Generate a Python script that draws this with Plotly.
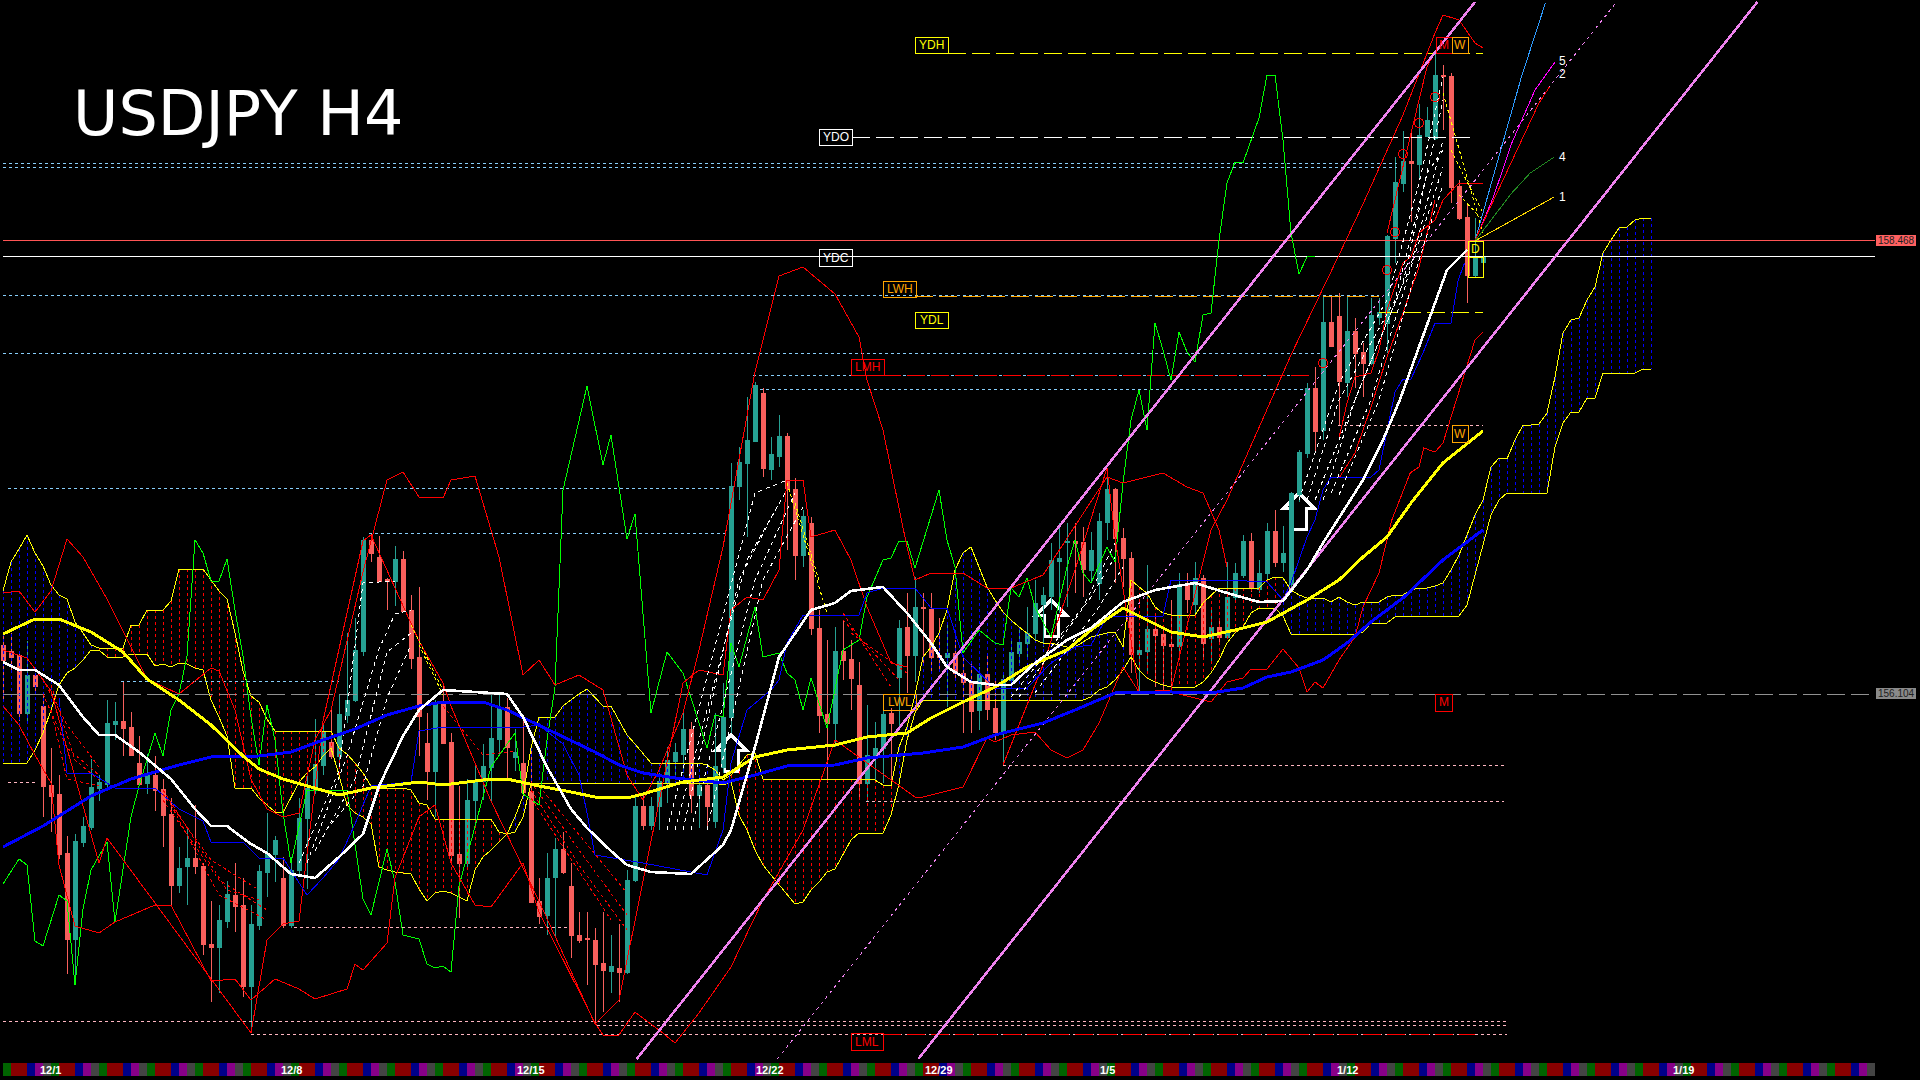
import plotly.graph_objects as go

# chart scale: values below are "points" above the chart's low edge; two price tags calibrate them
PRICE_TAGS = [158.468, 156.104]
TAG_POINTS = [839.5, 386.0]

opens = [435,429,425,367,405,374,295,286,227,141,238,253,292,296,356,359,353,317,297,305,
291,266,195,214,222,214,136,133,159,185,175,94,155,208,226,202,155,210,262,291,
315,338,324,365,380,429,540,523,501,499,521,470,423,337,309,376,338,226,217,280,
299,313,341,373,323,317,289,179,165,203,231,194,145,142,140,117,109,112,108,200,
274,255,274,298,319,326,351,285,295,259,313,363,594,617,639,687,611,624,644,591,
525,557,452,366,357,429,421,395,297,325,332,367,403,453,425,473,471,425,423,427,
407,398,370,406,372,349,400,427,437,447,476,484,519,538,539,538,510,497,558,591,
542,522,426,429,451,446,436,434,496,476,502,442,453,443,483,505,539,491,507,549,
518,496,586,627,692,650,758,764,698,749,728,717,763,757,842,897,919,916,944,942,
1005,1004,894,863,805,818]
closes = [420,423,367,405,394,294,284,226,141,239,254,293,298,357,359,352,325,296,305,290,
265,195,212,222,214,136,133,160,186,174,94,156,209,227,240,155,210,262,292,316,
348,324,366,380,430,540,527,499,499,521,469,422,364,309,376,337,225,217,280,300,
314,342,373,333,328,288,178,164,202,231,208,145,140,141,116,110,114,108,200,274,
255,274,299,320,328,351,285,295,274,314,363,594,618,640,695,612,626,644,592,525,
564,452,365,357,429,420,402,297,325,332,366,357,452,425,473,472,423,423,427,407,
398,369,406,371,348,401,428,438,447,477,485,520,522,539,537,511,530,559,591,542,
522,426,430,451,445,435,434,496,481,502,437,453,443,483,507,539,492,507,549,518,
527,587,628,692,649,758,734,699,749,727,717,765,768,844,898,919,917,945,960,1005,
1004,893,862,805,823,823]
highs = [447,447,428,439,407,386,332,305,244,246,263,321,305,380,378,398,368,344,326,324,
301,282,233,251,275,217,179,175,199,217,202,175,215,267,244,223,223,282,305,361,
355,372,386,447,462,543,546,544,502,534,529,485,493,367,380,397,347,294,301,315,
336,388,388,382,351,361,332,202,227,242,248,217,168,168,152,168,145,156,210,286,
287,283,307,333,337,367,358,303,303,367,397,617,633,683,698,692,643,665,647,602,
570,563,470,440,453,460,440,418,375,358,372,372,460,487,503,487,487,462,457,440,
423,417,413,427,400,407,440,453,473,500,493,537,557,557,557,553,548,567,612,592,
552,528,440,515,467,453,480,507,507,518,505,473,460,518,517,545,547,520,557,570,
554,588,630,697,713,785,785,787,784,762,737,782,782,845,923,949,950,976,973,1030,
1015,1007,900,877,862,824]
lows = [378,409,359,359,386,263,248,221,106,95,233,250,279,290,340,324,324,294,286,269,
233,173,187,175,206,125,78,87,152,148,83,47,150,183,198,152,152,204,191,286,
305,321,319,357,378,424,518,499,470,474,468,411,324,280,263,336,217,162,210,256,
280,279,326,302,309,282,177,156,145,143,206,122,137,95,57,68,87,78,106,198,
250,250,250,277,300,307,267,252,253,252,307,347,580,543,638,603,600,613,530,500,
513,445,347,297,333,400,370,283,278,297,297,295,353,387,398,417,407,408,373,400,
347,347,350,360,340,315,393,417,420,438,433,470,467,473,487,483,497,480,540,497,
493,407,388,407,393,388,392,422,467,463,422,418,437,442,480,502,488,487,500,513,
508,490,578,622,627,640,733,655,683,692,683,715,755,727,817,888,858,902,943,940,
950,877,860,777,803,817]

yellow_ma_bars = [0,4,7,11,15,18,22,26,30,32,35,39,42,46,52,55,60,63,67,71,74,78,80,85,90,94,98,104,108,113,116,120,124,128,133,136,140,143,146,150,154,158,160,163,167,170,173,176,180,185]
yellow_ma_pts = [446,461,461,448,428,401,380,355,324,311,301,292,285,292,298,295,300,301,294,288,283,282,286,298,303,323,330,335,343,347,362,378,393,413,430,450,472,460,448,443,450,458,467,480,500,523,543,577,617,649]

blue_ma_bars = [0,5,11,16,22,26,32,36,40,44,48,52,55,60,63,67,71,74,77,80,84,90,94,98,104,108,115,120,124,130,134,139,146,151,155,158,161,165,168,171,175,180,185]
blue_ma_pts = [233,254,284,301,315,323,324,328,340,351,365,374,378,378,370,355,340,328,315,307,302,297,305,314,315,322,327,333,345,357,370,387,388,387,392,403,408,420,437,458,482,520,550]

white_ma_bars = [0,2,4,7,10,12,14,17,21,24,26,28,31,33,36,39,42,45,47,50,52,55,59,63,65,68,71,73,76,78,81,86,90,91,94,97,101,104,106,110,113,116,118,121,124,126,129,133,136,140,144,149,153,157,160,163,165,167,170,172.5,174.6,177,179,180.5,182,183]
white_ma_pts = [418,410,410,395,363,345,345,328,301,271,254,254,236,227,206,202,223,246,294,344,370,390,388,386,363,313,271,252,229,215,208,206,235,250,333,423,470,477,489,493,467,437,413,398,395,395,417,440,452,478,490,497,487,478,479,510,537,562,600,640,680,733,777,810,822,830]

green_bars = [0,2,3,4,5,7,8,9,10,11,13,14,16,17,19,20,21,22,23,24,25,26,27,28,29,30,31,32,33,34,35,36,38,43,45,46,48,49,50,52,53,54,55,56,57,59,61,64,65,67,68,69,70,73,75,76,78,79,81,83,85,88,89,90,91,92,94,95,97,98,99,100,101,103,105,107,108,110,111,112,113,114,117,118,119,120,122,124,125,126,127,128,129,131,133,134,135,136,138,139,140,141,142,143,144,145,146,147,148,149,150,151,152,153,154,155,157,158,159,160,161,162,163,164]
green_pts = [196,221,215,139,134,185,179,95,171,210,238,158,263,294,347,324,370,386,424,540,527,499,499,521,470,424,363,315,375,340,267,217,290,290,181,165,231,198,145,141,116,112,114,108,194,254,313,347,286,275,340,393,590,694,615,645,541,566,367,428,407,332,365,363,437,413,473,423,427,407,400,370,402,352,430,440,483,520,522,539,539,512,590,540,513,427,450,437,435,492,483,502,473,443,513,540,507,497,533,518,597,660,690,650,757,730,700,748,728,718,765,767,840,897,918,917,962,1005,1005,940,847,806,823,824]

band_up_bars = [0,2,4,6,8,10,13,16,18,22,25,26,27,29,31,33,35,37,39,41,45,48,50,52,55,56,59,62,65,67,69,72,75,78,80,82,85,87,90,92,94,97,100,104,107,108,110,113,114,116,120,123,126,130,138,140,145,148,150,152,153]
band_up_pts = [487,489,468,489,541,523,481,432,401,386,405,412,409,370,301,271,263,267,340,370,508,600,608,583,582,600,604,523,405,420,395,405,390,305,280,310,367,430,533,620,708,804,813,786,743,700,650,533,500,507,507,492,492,505,603,597,607,593,587,550,513]
band_low_bars = [0,2,4,6,7,9,12,14,19,21,26,29,31,34,37,39,43,44,45,48,49,52,54,56,59,61,65,67,74,75,77,79,82,84,87,91,95,100,104,108,114,115,120,123,124,126,129,131,133,135,137,140,142,146,151,153,155,156,158,160,162,163,164,165,167,169,170,172,173.6,175.9,177,177.6,179,180,181,183,184,185]
band_low_pts = [374,355,325,297,215,154,147,158,175,175,99,101,80,101,91,81,91,116,110,137,202,263,275,217,175,173,217,168,57,45,45,68,50,37,67,113,180,250,340,317,283,283,293,342,338,345,348,330,322,330,357,413,388,388,378,398,402,411,411,431,412,388,398,392,420,443,473,507,560,607,613,632,628,637,663,713,740,748]
zig_bars = [0,3,6,8,10,12,13,31,33,35,37,40,45,46,52,55,56,61,67,74,77,85,87,90,91,93,95,97,98,100,101,104,106,108,111,113]
zig_pts = [430,422,389,332,275,217,242,47,140,156,159,359,539,545,439,397,374,279,179,56,80,397,410,405,470,483,480,510,600,600,543,550,520,473,417,413]
rise_a_bars = [125,130,134,138,139,142,146,151,153,161,167,170,175,179,180,182,184,185]
rise_a_pts = [315,415,510,612,543,388,390,550,580,725,825,876,965,1047,1065,1060,1037,1032]
rise_b_bars = [167,168,169,171,172,173,175,176,177,179,180,182,185]
rise_b_pts = [642,677,703,707,730,770,817,823,847,860,880,897,897]
rise_c_bars = [167,169,171,173,175,177,179]
rise_c_pts = [602,627,673,723,767,813,880]
rise_d_bars = [173,175,178,179]
rise_d_pts = [847,913,1013,1028]

kijun_bars = [7,8,11,14,19,22,25,26,30,32,35,38,40,42,44,46,51,52,55,65,67,70,72,73,74,80,88,90,91,93,96,97,98,100,107,108,110,114,116,118,120,124,128,131,134,136,138,145,146,153,158,160,161,163,164,165,166,171,172,173.4,174,175,176,177.5,179,181,181.9,182.7]
kijun_pts = [382,307,307,292,292,271,259,238,238,222,222,185,202,221,256,294,298,349,353,353,355,336,305,267,225,217,205,250,317,370,390,400,437,465,465,487,492,492,472,472,423,392,392,417,433,435,463,464,500,500,498,480,497,543,560,590,603,603,610,663,688,701,701,727,757,757,800,817]

span_top = [489,518,531,545,527,514,495,485,481,458,447,435,432,432,432,432,455,455,470,470,
470,479,511,511,511,511,500,489,481,447,409,384,378,361,349,349,349,349,349,349,
349,349,332,326,317,307,294,292,292,292,292,290,277,275,261,261,261,261,261,261,
261,261,248,246,263,284,332,363,363,363,374,380,386,391,382,374,374,359,345,336,
327,317,317,317,317,317,317,317,315,310,300,305,315,325,327,301,301,301,301,301,
301,301,301,301,301,301,301,301,301,300,295,294,333,353,385,423,433,447,470,510,
527,533,513,493,480,468,460,453,447,440,437,437,435,433,433,438,443,445,447,448,
433,500,493,487,473,467,465,465,465,465,477,485,492,492,492,492,492,492,500,503,
502,490,485,482,482,482,478,483,478,475,478,478,478,483,485,485,490,492,492,494,
497,510,525,545,565,580,613,622,621,640,655,655,656,667,703,747,760,762,780,793,
827,840,852,853,860,862,862]
span_bot = [317,317,317,317,330,347,370,395,407,412,420,430,430,423,423,423,426,426,426,414,
416,413,417,416,412,410,380,363,344,292,292,292,282,275,268,267,282,298,307,313,
324,332,305,275,267,263,256,213,210,208,207,206,191,179,187,189,187,183,179,210,
223,230,238,246,248,263,296,297,297,297,297,297,297,297,297,297,297,297,297,297,
297,297,297,297,297,297,297,297,297,297,295,298,265,250,230,215,205,195,185,176,
178,190,198,208,211,225,240,247,247,247,247,265,296,340,367,380,380,380,380,380,
380,380,380,380,380,380,380,380,380,380,380,380,380,380,380,380,383,390,393,400,
410,423,410,402,398,395,393,393,393,393,398,407,420,437,447,453,467,472,472,472,
464,446,446,446,446,446,446,446,446,446,448,457,457,457,463,464,464,464,464,464,
464,464,464,475,504,535,565,580,587,587,587,587,587,587,633,657,668,668,682,682,
707,707,707,707,707,711,711]
cloud_blue_spans = [(0, 11), (64, 90), (112, 140), (160, 206)]

ribbon_white = [
 ([37,42,45,49],[217,309,497,499]), ([38,43,47,49,51],[217,324,431,466,470]),
 ([39,44,48,51],[229,301,428,447]), ([41,45,48,51],[256,294,382,435]),
 ([83,94,98],[250,587,600]), ([84,93,98],[250,520,590]), ([85,92,97],[250,500,577]), ([86,94,99],[250,500,587]), ([88,95,100],[250,500,573]),
 ([126,135,139],[383,473,537]), ([127,136,139],[383,483,523]), ([129,137,140],[387,473,513]),
 ([162,167,173,177,180],[580,697,780,897,1003]), ([163,167,174,178,180],[580,680,780,907,980]),
 ([164,170,176,180],[580,700,815,940]), ([165,169,175,178,180],[580,680,797,907,930]),
 ([166,171,176,180],[587,680,813,913]), ([167,172,177,180],[585,680,820,895]),
]
ribbon_red = [
 ([5,8,12],[401,355,313]), ([5,8,12],[386,332,305]), ([6,9,12],[395,320,300]), ([6,8,12],[370,301,294]),
 ([20,26,32],[286,220,190]), ([20,28,32],[290,190,180]), ([20,27,33],[280,200,170]), ([21,27,33],[275,185,160]),
 ([55,60,64],[374,325,329]), ([66,72,78],[298,230,165]), ([66,72,78],[290,215,150]), ([67,78],[294,187]), ([66,76],[282,160]),
 ([105,111],[467,393]), ([105,112],[460,400]), ([106,113],[447,407]),
]
ribbon_yellow = [
 ([51,55],[455,390]), ([52,55],[435,385]), ([98,103],[597,467]), ([99,102],[577,500]),
 ([180,185],[987,847]), ([181,185],[930,867]), ([182,185],[885,860]),
]

channel_pts = [21, 1078]
channel_upper_bars = [79.2, 184.0]
channel_mid_bars = [96.8, 201.7]
channel_lower_bars = [114.4, 219.3]

fan_blue_bars, fan_blue_pts = [184,186.3,189.8,192.8], [839,903,1003,1077]
fan_5_bars, fan_5_pts = [184,186.3,188.6,191.5,194], [839,883,937,990,1018]
fan_2_bars, fan_2_pts = [184,186.9,189.8,192,193.3], [840,890,940,977,993]
fan_4_bars, fan_4_pts = [184,188.6,190.9,193.9], [839,887,907,923]
fan_1_bars, fan_1_pts = [184,193.9], [839,883]

sky_levels = [(917,0,174.2),(913,0,174.2),(785,0,172),(727,0,165),(705,93.8,163.4),(691,94.6,162.8),(592,0.6,90.3),(547,45.8,90.3),(399,14.7,42)]
pink_levels = [(298,0.6,4.2),(153,36.4,70.5),(59,0,188),(55,74.2,188),(46,31,188),(315,125,187.6),(279,107.9,187.6),(655,166.9,185)]
named_levels = [(1027,118.1,185,"#FFFF00"),(943,106.1,184,"#FFFFFF"),(823.5,106.1,172,"#FFFFFF"),(784,114,172,"#FFA500"),(768,172,185,"#FFFF00"),(705,110,163.4,"#FF0000"),(46,110,184,"#FF0000")]

arrow_bars = [91, 131, 162]
arrow_pts = [345, 480, 587]
ring_bars = [165,173,174,175,177,179]
ring_pts = [717,810,848,926,957,983]

strip_colors = ["#006400","#880000","#880000","#000088","#880088","#444444"]
date_labels = ["12/1","12/8","12/15","12/22","12/29","1/5","1/12","1/19"]
date_px = [50,291,531,770,939,1107,1347,1683]

# (text, left, top, right, bottom, colour) in page pixels
box_labels = [
 ("YDH",915,37,948,53,"#FFFF00"),("YDO",819,129,852,145,"#FFFFFF"),("YDC",819,249,852,266,"#FFFFFF"),
 ("LWH",883,281,916,297,"#FFA500"),("YDL",915,312,948,328,"#FFFF00"),("LMH",851,359,884,375,"#FF0000"),
 ("LWL",883,694,916,710,"#FFA500"),("LML",851,1033,883,1050,"#FF0000"),("M",1436,37,1452,53,"#FF0000"),
 ("W",1452,37,1468,53,"#FFA500"),("W",1452,425,1468,442,"#FFA500"),("M",1435,694,1452,711,"#FF0000"),
 ("D",1468,241,1483,257,"#FFFF00"),("",1468,257,1483,277,"#FFFF00"),
]

slope = (PRICE_TAGS[0]-PRICE_TAGS[1])/(TAG_POINTS[0]-TAG_POINTS[1])
def to_price(p):
    return PRICE_TAGS[1] + (p-TAG_POINTS[1])*slope
def prices(seq):
    return [to_price(p) for p in seq]
def px(x): return x/1920
def py(y): return 1-y/1080

fig = go.Figure()
def line(bars, pts, color, width=1, dash=None):
    fig.add_trace(go.Scatter(x=bars, y=prices(pts), mode="lines", hoverinfo="skip",
                             line=dict(color=color, width=width, dash=dash)))

# cloud hatching
hx = {"#FF0000": [], "#0000FF": []}
hy = {"#FF0000": [], "#0000FF": []}
for b, (t, l) in enumerate(zip(span_top, span_bot)):
    c = "#0000FF" if any(a <= b <= z for a, z in cloud_blue_spans) else "#FF0000"
    hx[c] += [b, b, None]
    hy[c] += [to_price(t), to_price(l), None]
for c in hx:
    fig.add_trace(go.Scatter(x=hx[c], y=hy[c], mode="lines", hoverinfo="skip",
                             line=dict(color=c, width=1, dash="3px,3px")))
cloud_bars = list(range(len(span_top)))
line(cloud_bars, span_top, "#FFFF00", 1)
line(cloud_bars, span_bot, "#FFFF00", 1)

# levels
for p, a, z in sky_levels:
    line([a, z], [p, p], "#87CEFA", 1, "3px,3px")
for p, a, z in pink_levels:
    line([a, z], [p, p], "#FFB6C1", 1, "3px,3px")
for p, a, z, c in named_levels:
    line([a, z], [p, p], c, 1, "18px,6px")
line([0, 234], [TAG_POINTS[0]]*2, "#FF5555", 1)
line([0, 234], [824, 824], "#FFFFFF", 1)
line([0, 234], [TAG_POINTS[1]]*2, "#909090", 1, "18px,6px")

# thin indicators
line(green_bars, green_pts, "#00FF00", 1)
line(band_up_bars, band_up_pts, "#FF0000", 1)
line(band_low_bars, band_low_pts, "#FF0000", 1)
line(zig_bars, zig_pts, "#FF0000", 1)
line(rise_a_bars, rise_a_pts, "#FF0000", 1)
line(rise_b_bars, rise_b_pts, "#FF0000", 1)
line(rise_c_bars, rise_c_pts, "#FF0000", 1)
line(rise_d_bars, rise_d_pts, "#FF0000", 1)
line(kijun_bars, kijun_pts, "#0000FF", 1)

for b, p in ribbon_red:
    line(b, p, "#FF0000", 1, "3px,3px")
for b, p in ribbon_white:
    line(b, p, "#FFFFFF", 1, "4px,4px")
for b, p in ribbon_yellow:
    line(b, p, "#FFFF00", 1, "3px,3px")

# channel
line(channel_upper_bars, channel_pts, "#EE82EE", 2.5)
line(channel_lower_bars, channel_pts, "#EE82EE", 2.5)
line(channel_mid_bars, channel_pts, "#EE82EE", 1, "3px,4px")

# moving averages
line(blue_ma_bars, blue_ma_pts, "#0000FF", 3)
line(yellow_ma_bars, yellow_ma_pts, "#FFFF00", 3)
line(white_ma_bars, white_ma_pts, "#FFFFFF", 2.6)

# fan
line(fan_blue_bars, fan_blue_pts, "#2E9BFF", 1)
line(fan_5_bars, fan_5_pts, "#FF00FF", 1)
line(fan_2_bars, fan_2_pts, "#FF0000", 1)
line(fan_4_bars, fan_4_pts, "#228B22", 1)
line(fan_1_bars, fan_1_pts, "#FFD700", 1)

fig.add_trace(go.Scatter(x=ring_bars, y=prices(ring_pts), mode="markers", hoverinfo="skip",
                         marker=dict(symbol="circle-open", size=9, color="#FF0000", line=dict(width=1.2, color="#FF0000"))))

# candles on top
TEAL, SALMON = "#26A092", "#F85F5C"
fig.add_trace(go.Candlestick(
    x=list(range(len(opens))), open=prices(opens), high=prices(highs), low=prices(lows), close=prices(closes),
    increasing=dict(line=dict(color=TEAL, width=1), fillcolor=TEAL),
    decreasing=dict(line=dict(color=SALMON, width=1), fillcolor=SALMON),
    hoverinfo="skip"))

# session strip
cells = list(range(234))
fig.add_trace(go.Bar(x=[k+0.5 for k in cells], y=[to_price(17)-to_price(4)]*len(cells), base=to_price(4), width=1,
                     marker=dict(color=[strip_colors[k % 6] for k in cells], line=dict(width=0)), hoverinfo="skip"))

annotations = []
shapes = []
for text, l, t, r, b, c in box_labels:
    shapes.append(dict(type="rect", xref="paper", yref="paper", x0=px(l), x1=px(r), y0=py(b), y1=py(t),
                       line=dict(color=c, width=1), fillcolor="rgba(0,0,0,0)"))
    if text:
        annotations.append(dict(x=px((l+r)/2), y=py((t+b)/2), xref="paper", yref="paper", text=text, showarrow=False,
                                font=dict(family="Liberation Sans", size=12, color=c), xanchor="center", yanchor="middle"))

for bar, p in zip(arrow_bars, arrow_pts):
    shapes.append(dict(type="path", xref="x", yref="y", xsizemode="pixel", ysizemode="pixel",
                       xanchor=bar, yanchor=to_price(p), layer="below",
                       path="M 0 0 L 15 -15 L 7 -15 L 7 -36 L -7 -36 L -7 -15 L -15 -15 Z",
                       line=dict(color="#FFFFFF", width=3)))

for d, x in zip(date_labels, date_px):
    annotations.append(dict(x=px(x), y=py(1070), xref="paper", yref="paper", text="<b>%s</b>" % d, showarrow=False,
                            font=dict(family="Liberation Sans", size=11, color="#FFFFFF"), xanchor="center", yanchor="middle"))

annotations.append(dict(x=px(71), y=py(113), xref="paper", yref="paper", text="USDJPY H4", showarrow=False,
                        font=dict(family="DejaVu Sans", size=62, color="#FFFFFF"), xanchor="left", yanchor="middle"))
for t, y in zip(["5", "2", "4", "1"], [61, 74, 157, 197]):
    annotations.append(dict(x=px(1562), y=py(y), xref="paper", yref="paper", text=t, showarrow=False,
                            font=dict(family="Liberation Sans", size=12, color="#FFFFFF"), xanchor="center", yanchor="middle"))

for tag, top, fill in zip(PRICE_TAGS, [235, 688], ["#FF6060", "#8A8A8A"]):
    shapes.append(dict(type="rect", xref="paper", yref="paper", x0=px(1876), x1=px(1916), y0=py(top+11), y1=py(top),
                       line=dict(width=0), fillcolor=fill))
    annotations.append(dict(x=px(1896), y=py(top+5.5), xref="paper", yref="paper", text="%.3f" % tag, showarrow=False,
                            font=dict(family="Liberation Sans", size=10, color="#202020"), xanchor="center", yanchor="middle"))

fig.update_layout(
    width=1920, height=1080, margin=dict(l=0, r=0, t=0, b=0),
    paper_bgcolor="#000000", plot_bgcolor="#000000", showlegend=False, boxgap=0.5, boxgroupgap=0,
    xaxis=dict(range=[-0.375, 239.625], visible=False, rangeslider=dict(visible=False), fixedrange=True),
    yaxis=dict(range=[to_price(0), to_price(1080)], visible=False, fixedrange=True),
    shapes=shapes, annotations=annotations,
)
page_css = "svg path{shape-rendering:crispEdges !important;}"
fig.write_html("out.html", config=dict(displayModeBar=False),
               post_script="var s=document.createElement('style');s.textContent='%s';document.head.appendChild(s);"
                           "document.body.style.margin='0';document.body.style.background='#000';document.body.style.overflow='hidden';" % page_css)
